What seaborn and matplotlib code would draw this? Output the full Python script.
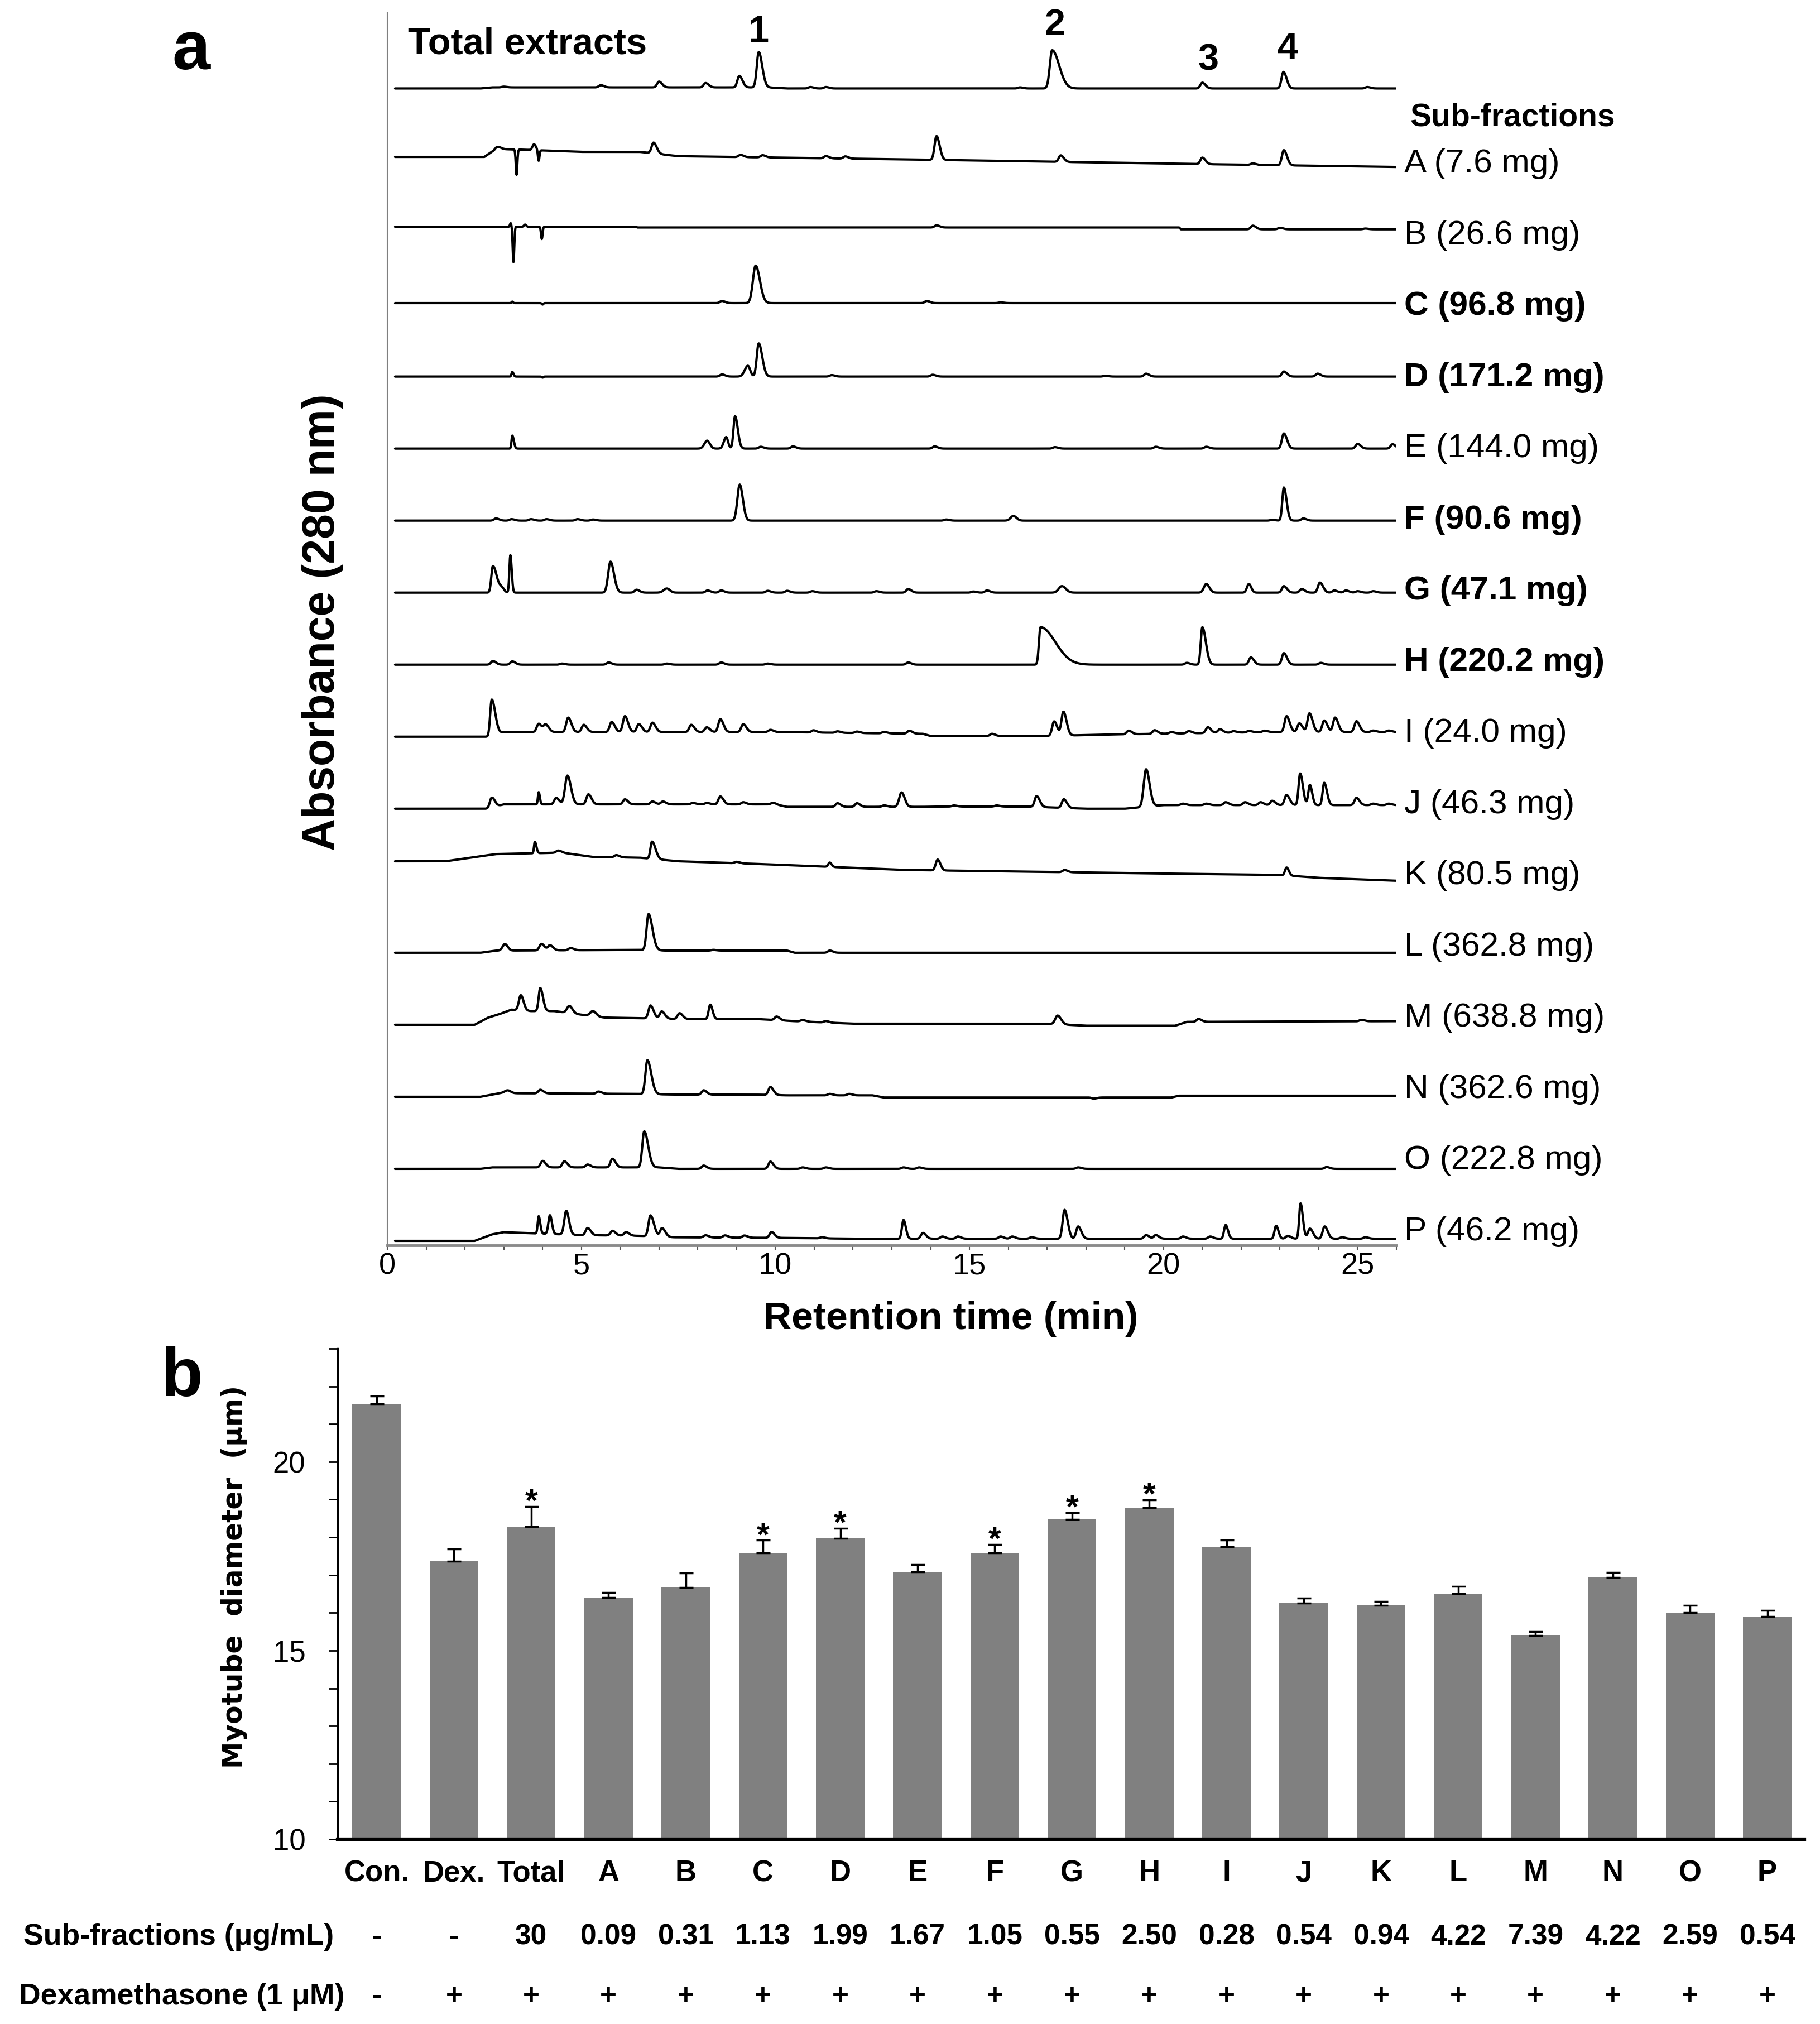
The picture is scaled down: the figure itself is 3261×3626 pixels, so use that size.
import numpy as np
import pandas as pd
import matplotlib
matplotlib.use("Agg")
import matplotlib.pyplot as plt
import matplotlib.transforms as mtransforms
from matplotlib.ticker import MultipleLocator
import seaborn as sns

sns.set_theme(style="white")
plt.rcParams["font.family"] = ["Liberation Sans", "DejaVu Sans"]
plt.rcParams["text.color"] = "black"
plt.rcParams["axes.labelcolor"] = "black"
plt.rcParams["xtick.color"] = "black"
plt.rcParams["ytick.color"] = "black"

# ---------------- panel a: HPLC traces (peaks: time, height[, left width, right width]) ----------------
trace_names = ["Total", "A", "B", "C", "D", "E", "F", "G", "H",
               "I", "J", "K", "L", "M", "N", "O", "P"]
trace_labels = ["A (7.6 mg)", "B (26.6 mg)", "C (96.8 mg)", "D (171.2 mg)", "E (144.0 mg)",
                "F (90.6 mg)", "G (47.1 mg)", "H (220.2 mg)", "I (24.0 mg)", "J (46.3 mg)",
                "K (80.5 mg)", "L (362.8 mg)", "M (638.8 mg)", "N (362.6 mg)", "O (222.8 mg)",
                "P (46.2 mg)"]
label_bold = [False, False, True, True, False, True, True, True,
              False, False, False, False, False, False, False, False]

peaks_total = [(3.0, 0.01), (5.5, 0.03), (7.0, 0.08), (8.2, 0.06), (9.07, 0.16),
               (9.57, 0.49, 0.05, 0.09), (10.9, 0.02), (11.3, 0.02), (16.3, 0.015),
               (17.13, 0.53, 0.06, 0.18), (21.0, 0.08), (23.09, 0.23), (25.25, 0.02)]
base_total = [(0.2, 0), (2.4, 0), (2.7, 0.015), (9.8, 0.015), (10.3, 0), (26, 0)]

peaks_a = [(2.85, 0.03), (3.33, -0.35, 0.02, 0.02), (3.78, 0.08, 0.04, 0.05),
           (3.9, -0.15, 0.02, 0.02), (6.86, 0.15), (9.1, 0.03), (9.67, 0.03), (11.3, 0.03),
           (11.8, 0.03), (14.15, 0.33), (17.35, 0.09), (21.0, 0.09), (22.3, 0.02), (23.1, 0.21)]
base_a = [(0.2, 0.05), (2.5, 0.05), (2.8, 0.16), (3.5, 0.15), (5, 0.12), (6.5, 0.12),
          (7.5, 0.06), (14, 0.01), (21, -0.05), (26, -0.09)]

peaks_b = [(3.18, 0.05, 0.02, 0.02), (3.25, -0.49, 0.02, 0.02), (3.55, 0.03, 0.03, 0.03),
           (3.98, -0.17, 0.02, 0.02), (14.15, 0.03), (22.3, 0.05), (23.0, 0.02), (25.2, 0.01)]
base_b = [(0.2, 0.08), (6.4, 0.08), (6.45, 0.07), (20.4, 0.07), (20.45, 0.045), (26, 0.045)]

peaks_c = [(3.22, 0.02, 0.02, 0.02), (4.0, -0.02, 0.02, 0.02), (8.62, 0.03),
           (9.49, 0.52, 0.07, 0.11), (13.9, 0.03), (15.8, 0.01)]
base_c = [(0.2, 0.02), (26, 0.02)]

peaks_d = [(3.22, 0.065, 0.02, 0.03), (4.0, -0.015, 0.02, 0.02), (8.62, 0.03),
           (9.29, 0.15, 0.08, 0.06), (9.57, 0.46, 0.05, 0.09), (11.45, 0.02), (14.05, 0.025),
           (18.5, 0.01), (19.55, 0.04), (23.1, 0.07), (23.97, 0.04)]
base_d = [(0.2, 0), (26, 0)]

peaks_e = [(3.22, 0.18, 0.02, 0.04), (8.24, 0.11, 0.07, 0.07), (8.73, 0.16, 0.06, 0.05),
           (8.96, 0.45, 0.04, 0.07), (9.62, 0.025), (10.45, 0.03), (14.1, 0.03), (17.2, 0.02),
           (19.8, 0.025), (21.1, 0.025), (23.1, 0.21), (25.0, 0.065), (25.9, 0.06)]
base_e = [(0.2, 0), (26, 0)]

peaks_f = [(2.8, 0.03), (3.2, 0.02), (3.7, 0.02), (4.1, 0.02), (4.9, 0.02), (5.3, 0.015),
           (9.08, 0.5, 0.06, 0.08), (14.4, 0.015), (16.13, 0.065, 0.07, 0.08), (22.8, 0.01),
           (23.1, 0.46, 0.04, 0.07), (23.6, 0.03)]
base_f = [(0.2, 0), (26, 0)]

peaks_g = [(2.72, 0.37, 0.04, 0.1), (2.95, 0.06, 0.06, 0.06), (3.17, 0.52, 0.025, 0.035),
           (5.75, 0.43, 0.06, 0.09), (6.42, 0.04), (7.2, 0.057, 0.08, 0.08), (8.25, 0.03),
           (8.6, 0.03), (9.8, 0.025), (10.3, 0.025), (10.95, 0.02), (12.6, 0.02), (13.42, 0.05),
           (15.1, 0.015), (15.45, 0.03), (17.38, 0.09, 0.08, 0.1), (21.1, 0.12, 0.06, 0.08),
           (22.2, 0.12, 0.05, 0.06), (23.1, 0.09), (23.56, 0.05), (24.03, 0.14), (24.4, 0.03),
           (24.7, 0.03), (25.0, 0.02), (25.4, 0.02)]
base_g = [(0.2, 0), (26, 0)]

peaks_h = [(2.72, 0.05), (3.22, 0.045), (4.5, 0.015), (5.7, 0.03), (7.2, 0.015), (8.6, 0.03),
           (9.8, 0.015), (13.42, 0.03), (16.83, 0.52, 0.04, 0.38), (20.6, 0.025),
           (21.0, 0.52, 0.04, 0.09), (22.25, 0.1), (23.1, 0.16), (24.05, 0.025)]
base_h = [(0.2, 0), (26, 0)]

peaks_i = [(2.69, 0.5, 0.04, 0.09), (3.9, 0.115), (4.08, 0.1), (4.66, 0.2), (5.06, 0.1),
           (5.78, 0.14), (6.12, 0.22), (6.48, 0.11), (6.83, 0.13), (7.83, 0.1), (8.23, 0.065),
           (8.58, 0.18), (9.17, 0.11), (9.87, 0.03), (10.98, 0.03), (11.6, 0.02), (12.1, 0.02),
           (12.8, 0.02), (13.45, 0.04), (15.58, 0.03), (17.18, 0.2), (17.42, 0.33), (19.1, 0.05),
           (19.77, 0.05), (20.2, 0.02), (20.65, 0.03), (21.14, 0.08), (21.45, 0.05), (21.8, 0.02),
           (22.2, 0.02), (22.6, 0.02), (23.17, 0.22), (23.5, 0.12), (23.76, 0.26), (24.14, 0.16),
           (24.42, 0.2), (24.97, 0.15), (25.4, 0.02), (25.8, 0.02)]
base_i = [(0.2, 0), (2.6, 0), (3.0, 0.065), (10.0, 0.065), (13.8, 0.04), (14.0, 0.01),
          (17.0, 0.01), (18.6, 0.03), (22.8, 0.065), (26, 0.065)]

peaks_j = [(2.69, 0.14), (3.9, 0.17, 0.02, 0.03), (4.35, 0.09), (4.64, 0.4, 0.06, 0.09),
           (5.18, 0.14), (6.12, 0.07), (6.83, 0.04), (7.1, 0.04), (7.87, 0.02), (8.23, 0.02),
           (8.58, 0.11), (9.17, 0.03), (9.93, 0.02), (11.6, 0.05), (12.1, 0.05), (12.8, 0.02),
           (13.25, 0.2, 0.06, 0.08), (14.6, 0.015), (15.7, 0.015), (16.73, 0.15), (17.43, 0.12),
           (19.55, 0.52, 0.06, 0.09), (20.5, 0.02), (21.1, 0.02), (21.6, 0.04), (22.1, 0.04),
           (22.5, 0.04), (22.8, 0.06), (23.17, 0.14), (23.52, 0.44, 0.04, 0.07),
           (23.77, 0.28, 0.04, 0.06), (24.14, 0.31, 0.04, 0.07), (24.97, 0.1), (25.4, 0.02),
           (25.8, 0.02)]
base_j = [(0.2, 0), (2.6, 0), (3.0, 0.06), (10.0, 0.06), (10.3, 0.026), (13.8, 0.026),
          (14.2, 0.03), (16.5, 0.03), (18.0, 0.0), (19.0, 0.0), (20.0, 0.05), (26, 0.05)]

peaks_k = [(3.8, 0.16, 0.02, 0.04), (4.4, 0.03), (5.9, 0.03), (6.82, 0.24, 0.04, 0.09),
           (9.0, 0.02), (11.4, 0.06, 0.04, 0.05), (14.18, 0.15, 0.05, 0.07), (17.45, 0.03),
           (23.17, 0.11, 0.04, 0.06)]
base_k = [(0.2, 0.27), (1.5, 0.27), (2.27, 0.33), (2.8, 0.37), (4.5, 0.39), (5.3, 0.33),
          (6.5, 0.32), (7.5, 0.27), (9.7, 0.23), (13.3, 0.15), (20, 0.1), (23, 0.08),
          (24, 0.04), (26, 0.0)]

peaks_l = [(3.03, 0.09, 0.06, 0.07), (3.97, 0.09), (4.19, 0.07), (4.72, 0.03),
           (6.73, 0.5, 0.05, 0.1), (8.4, 0.01), (11.4, 0.03)]
base_l = [(0.2, 0), (2.4, 0), (2.8, 0.03), (6.5, 0.04), (7.2, 0.03), (10.3, 0.03),
          (10.5, 0), (26, 0)]

peaks_m = [(3.44, 0.21, 0.05, 0.07), (3.94, 0.32, 0.04, 0.07), (4.69, 0.1, 0.06, 0.08),
           (5.3, 0.07, 0.07, 0.08), (6.78, 0.18, 0.05, 0.08), (7.07, 0.1), (7.53, 0.08),
           (8.32, 0.2, 0.04, 0.06), (10.03, 0.05), (10.7, 0.02), (11.3, 0.02),
           (17.27, 0.12, 0.06, 0.09), (20.9, 0.04), (25.1, 0.02)]
base_m = [(0.2, 0), (2.25, 0), (2.6, 0.1), (2.9, 0.15), (3.2, 0.21), (3.7, 0.19), (4.3, 0.19),
          (5.0, 0.14), (5.6, 0.1), (7.6, 0.08), (9.5, 0.08), (10.5, 0.05), (12, 0.015),
          (17, 0.015), (18, -0.013), (20.3, -0.013), (20.6, 0.04), (26, 0.05)]

peaks_n = [(3.1, 0.04, 0.08, 0.08), (3.94, 0.05), (5.44, 0.03), (6.7, 0.47, 0.05, 0.1),
           (8.15, 0.06), (9.87, 0.11), (11.4, 0.02), (11.9, 0.02), (18.2, -0.015)]
base_n = [(0.2, 0), (2.4, 0), (2.9, 0.05), (6.4, 0.04), (7.5, 0.03), (9.5, 0.03), (10.3, 0.02),
          (12.5, 0.02), (12.8, -0.01), (17, -0.01), (20.2, -0.01), (20.4, 0.015), (26, 0.015)]

peaks_o = [(4.0, 0.09), (4.56, 0.085), (5.16, 0.04), (5.8, 0.12), (6.62, 0.5, 0.05, 0.1),
           (8.15, 0.045), (9.87, 0.1), (10.7, 0.02), (11.3, 0.02), (13.3, 0.02), (13.7, 0.02),
           (17.8, 0.02), (24.2, 0.025)]
base_o = [(0.2, 0), (2.4, 0), (2.7, 0.02), (7, 0.02), (7.5, 0), (26, 0)]

peaks_p = [(3.9, 0.24, 0.025, 0.04), (4.19, 0.26, 0.04, 0.05), (4.61, 0.33, 0.05, 0.07),
           (5.16, 0.1), (5.8, 0.065), (6.15, 0.05), (6.78, 0.29, 0.05, 0.09), (7.08, 0.12),
           (8.2, 0.03), (8.7, 0.03), (9.2, 0.03), (9.9, 0.08), (11.2, 0.015),
           (13.3, 0.26, 0.04, 0.06), (13.8, 0.08), (14.3, 0.03), (14.7, 0.03), (15.8, 0.03),
           (16.1, 0.03), (16.6, 0.02), (17.45, 0.4, 0.05, 0.08), (17.8, 0.17), (19.55, 0.05),
           (19.8, 0.05), (20.5, 0.03), (21.2, 0.03), (21.6, 0.19, 0.04, 0.06),
           (22.9, 0.18, 0.04, 0.06), (23.2, 0.04), (23.53, 0.49, 0.035, 0.06), (23.77, 0.14),
           (24.15, 0.17), (24.6, 0.02), (25.2, 0.02)]
base_p = [(0.2, 0), (2.25, 0), (2.7, 0.09), (3.0, 0.12), (3.5, 0.11), (4.0, 0.1), (5, 0.08),
          (6.5, 0.07), (7.4, 0.05), (10.5, 0.04), (12, 0.03), (26, 0.03)]

all_peaks = [peaks_total, peaks_a, peaks_b, peaks_c, peaks_d, peaks_e, peaks_f, peaks_g,
             peaks_h, peaks_i, peaks_j, peaks_k, peaks_l, peaks_m, peaks_n, peaks_o, peaks_p]
all_bases = [base_total, base_a, base_b, base_c, base_d, base_e, base_f, base_g,
             base_h, base_i, base_j, base_k, base_l, base_m, base_n, base_o, base_p]

# ---------------- panel b: myotube diameter ----------------
groups = ["Con.", "Dex.", "Total", "A", "B", "C", "D", "E", "F", "G", "H",
          "I", "J", "K", "L", "M", "N", "O", "P"]
diam_mean = [21.53, 17.36, 18.28, 16.40, 16.67, 17.59, 17.97, 17.08, 17.59, 18.47, 18.78,
             17.75, 16.25, 16.20, 16.51, 15.40, 16.93, 16.01, 15.90]
diam_err = [0.22, 0.33, 0.54, 0.14, 0.38, 0.33, 0.27, 0.19, 0.22, 0.18, 0.21,
            0.17, 0.14, 0.10, 0.19, 0.10, 0.14, 0.19, 0.17]
signif = ["", "", "*", "", "", "*", "*", "", "*", "*", "*",
          "", "", "", "", "", "", "", ""]
subfrac_conc = ["-", "-", "30", "0.09", "0.31", "1.13", "1.99", "1.67", "1.05", "0.55",
                "2.50", "0.28", "0.54", "0.94", "4.22", "7.39", "4.22", "2.59", "0.54"]
dex_flag = ["-"] + ["+"] * 18

# ---------------- figure ----------------
W, H = 3262, 3626
fig = plt.figure(figsize=(W / 100, H / 100), dpi=100)

def fx(px):
    return px / W

def fy(py):
    return 1 - py / H

# panel a axes
ax_a = fig.add_axes([fx(694), fy(2231), fx(2502) - fx(694), fy(23) - fy(2231)])
t = np.linspace(0.2, 26.0, 2581)
rows = []
n_tr = len(trace_names)
for i, name in enumerate(trace_names):
    off = (n_tr - 1) - i
    bt = [b[0] for b in all_bases[i]]
    bv = [b[1] for b in all_bases[i]]
    y = np.interp(t, bt, bv)
    for p in all_peaks[i]:
        t0, h = p[0], p[1]
        wl = p[2] if len(p) > 2 else 0.05
        wr = p[3] if len(p) > 3 else 0.08
        s = np.where(t < t0, wl, wr)
        y = y + h * np.exp(-0.5 * ((t - t0) / s) ** 2)
    rows.append(pd.DataFrame({"t": t, "y": y + off, "trace": name}))
df_tr = pd.concat(rows, ignore_index=True)

sns.lineplot(data=df_tr, x="t", y="y", units="trace", estimator=None, sort=False,
             color="black", lw=3.0, ax=ax_a)
ax_a.set_xlim(0, 26)
ax_a.set_ylim(-0.062, 17.05)
ax_a.set_xlabel("")
ax_a.set_ylabel("")
ax_a.set_yticks([])
ax_a.xaxis.set_major_locator(MultipleLocator(5))
ax_a.xaxis.set_minor_locator(MultipleLocator(1))
ax_a.tick_params(axis="x", which="both", bottom=True, direction="out", length=6,
                 width=1.5, color="#555555", labelsize=39, pad=3)
for sp in ["top", "right"]:
    ax_a.spines[sp].set_visible(False)
ax_a.spines["left"].set_color("#7f7f7f")
ax_a.spines["left"].set_linewidth(1.5)
ax_a.spines["bottom"].set_color("#8a8a8a")
ax_a.spines["bottom"].set_linewidth(3.5)

ax_a.text(0.53, 16.61, "Total extracts", fontsize=48, fontweight="bold", ha="left", va="center")
for num, tx, ty in [("1", 9.57, 16.78), ("2", 17.2, 16.87), ("3", 21.15, 16.39), ("4", 23.2, 16.55)]:
    ax_a.text(tx, ty, num, fontsize=48, fontweight="bold", ha="center", va="center")
ax_a.text(26.35, 15.6, "Sub-fractions", fontsize=41, fontweight="bold", ha="left",
          va="center", clip_on=False)
for k, lab in enumerate(trace_labels):
    off = (n_tr - 2) - k
    ax_a.text(26.2, off - 0.05 + 0.012 * k, lab, fontsize=43.5,
              fontweight="bold" if label_bold[k] else "normal",
              ha="left", va="center", clip_on=False)

fig.text(fx(578), fy(1115), "Absorbance (280 nm)", rotation=90, fontsize=58,
         fontweight="bold", ha="center", va="center")
fig.text(fx(1704), fy(2363), "Retention time (min)", fontsize=50,
         fontweight="bold", ha="center", va="center")
fig.text(fx(342), fy(92), "a", fontsize=88, fontweight="bold", ha="center", va="center")

# panel b axes
ax_b = fig.add_axes([fx(605), fy(3295), fx(3233) - fx(605), fy(2416) - fy(3295)])
sns.barplot(x=groups, y=diam_mean, color="#808080", saturation=1, width=0.63,
            errorbar=None, linewidth=0, ax=ax_b)
xpos = np.arange(len(groups))
ax_b.errorbar(xpos, diam_mean, yerr=[np.zeros(len(groups)), diam_err], fmt="none",
              ecolor="black", elinewidth=2.5, capsize=9, capthick=2.5)
for xi, m, e, s in zip(xpos, diam_mean, diam_err, signif):
    if s:
        ax_b.text(xi, m + e - 0.13, s, fontsize=42, fontweight="bold", ha="center", va="baseline")
ax_b.set_xlim(-0.506, 18.48)
ax_b.set_ylim(10, 23)
ax_b.set_xlabel("")
ax_b.set_ylabel("")
ax_b.yaxis.set_major_locator(MultipleLocator(5))
ax_b.yaxis.set_minor_locator(MultipleLocator(1))
ax_b.tick_params(axis="y", which="both", left=True, direction="out", length=11.5,
                 width=2, color="black", labelsize=38, pad=30)
ax_b.tick_params(axis="x", length=0, labelsize=38, pad=26)
for lbl in ax_b.get_xticklabels():
    lbl.set_fontweight("bold")
for sp in ["top", "right"]:
    ax_b.spines[sp].set_visible(False)
ax_b.spines["left"].set_color("black")
ax_b.spines["left"].set_linewidth(2.5)
ax_b.spines["bottom"].set_color("black")
ax_b.spines["bottom"].set_linewidth(4.5)

trans_b = mtransforms.blended_transform_factory(ax_b.transData, fig.transFigure)
for xi, c, d in zip(xpos, subfrac_conc, dex_flag):
    ax_b.text(xi, fy(3470), c, transform=trans_b, fontsize=37, fontweight="bold",
              ha="center", va="center")
    ax_b.text(xi, fy(3577), d, transform=trans_b, fontsize=37, fontweight="bold",
              ha="center", va="center")
fig.text(fx(42), fy(3470), "Sub-fractions (\u03bcg/mL)", fontsize=38.5, fontweight="bold",
         ha="left", va="center")
fig.text(fx(34), fy(3577), "Dexamethasone (1 \u03bcM)", fontsize=38.5, fontweight="bold",
         ha="left", va="center")
fig.text(fx(420), fy(2825), "Myotube  diameter  (\u03bcm)", rotation=90, fontsize=35,
         fontweight="bold", family=["DejaVu Sans"], ha="center", va="center")
fig.text(fx(326), fy(2469), "b", fontsize=88, fontweight="bold", ha="center", va="center")

fig.savefig("out.png", dpi=100)
